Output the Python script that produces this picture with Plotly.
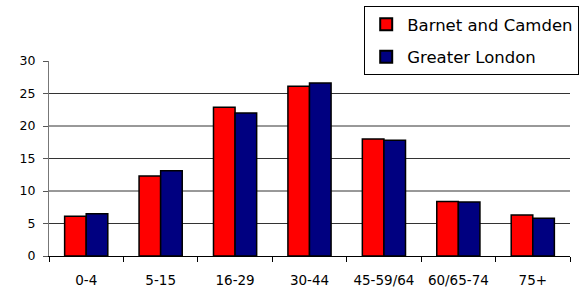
import plotly.graph_objects as go

categories = ["0-4", "5-15", "16-29", "30-44", "45-59/64", "60/65-74", "75+"]
barnet_camden = [6.1, 12.3, 22.9, 26.1, 18.0, 8.4, 6.3]
greater_london = [6.5, 13.1, 22.0, 26.6, 17.8, 8.3, 5.8]
y_ticks = [0, 5, 10, 15, 20, 25, 30]
grid_values = [5, 10, 15, 20, 25]

FONT = "DejaVu Sans"

fig = go.Figure()
fig.add_trace(go.Bar(name="Barnet and Camden", x=categories, y=barnet_camden,
                     marker=dict(color="#ff0000", line=dict(color="black", width=1.5)),
                     legendgroup="a"))
fig.add_trace(go.Bar(name="Greater London", x=categories, y=greater_london,
                     marker=dict(color="#000080", line=dict(color="black", width=1.5)),
                     legendgroup="b"))

for g in grid_values:
    fig.add_shape(type="line", xref="paper", yref="y", x0=0, x1=1, y0=g, y1=g,
                  line=dict(color="#333333", width=1), layer="below")

fig.update_layout(
    width=585, height=289,
    margin=dict(l=49, r=15, t=61, b=33, autoexpand=False),
    paper_bgcolor="white", plot_bgcolor="white",
    barmode="group", bargap=0.42, bargroupgap=0,
    font=dict(family=FONT, color="black"),
    showlegend=True,
    legend=dict(x=0.605, y=1.282, xanchor="left", yanchor="top",
                bordercolor="black", borderwidth=1, bgcolor="white",
                font=dict(size=16.5, family=FONT), tracegroupgap=8,
                itemsizing="constant", itemwidth=32,
                entrywidth=184, entrywidthmode="pixels"),
    xaxis=dict(type="category", showline=True, linecolor="black", linewidth=1,
               ticks="outside", tickson="boundaries", ticklen=5, tickcolor="black",
               tickfont=dict(size=13.5, family=FONT), showgrid=False, zeroline=False,
               ticklabelstandoff=12, fixedrange=True, automargin=False),
    yaxis=dict(range=[0, 30], tickvals=y_ticks, showline=True, linecolor="#777777",
               linewidth=1, ticks="outside", ticklen=5, tickcolor="#555555",
               tickfont=dict(size=12.5, family=FONT), showgrid=False, zeroline=False,
               ticklabelstandoff=5, fixedrange=True, automargin=False),
)

fig.write_html("out.html", config={"displayModeBar": False, "staticPlot": True},
               post_script="document.body.style.margin='0';document.body.style.overflow='hidden';")
